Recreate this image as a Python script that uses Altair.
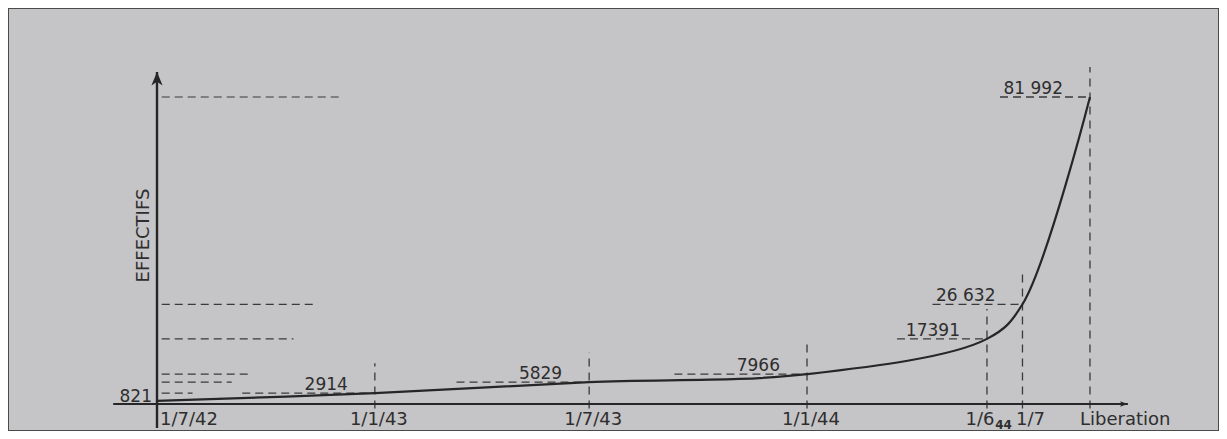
import altair as alt
import pandas as pd

# ---- values ----
dates = ["1942-07-01", "1943-01-01", "1943-07-01", "1944-01-01",
         "1944-06-01", "1944-07-01", "1944-08-27"]
tick_labels = ["1/7/42", "1/1/43", "1/7/43", "1/1/44", "1/6", "1/7", "Liberation"]
effectifs = [821, 2914, 5829, 7966, 17391, 26632, 81992]
value_labels = ["821", "2914", "5829", "7966", "17391", "26 632", "81 992"]
year_label = "44"
year_date = "1944-06-15"
y_title = "EFFECTIFS"

df = pd.DataFrame({"date": dates, "tick": tick_labels,
                   "value": effectifs, "vlabel": value_labels})
df["idx"] = list(range(len(df)))
one = pd.DataFrame({"k": [0]})

DAY = 86400000


def ms(s):
    return int((pd.Timestamp(s) - pd.Timestamp("1970-01-01")) / pd.Timedelta(milliseconds=1))


# ---- geometry / style ----
W, H = 1211, 423
ORIGIN = ms(dates[0])
PX_DAY = 650 / 549
X0_PX, Y0_PX, YTOP_PX = 149, 396, 89
x_dom = [ORIGIN - X0_PX / PX_DAY * DAY, ORIGIN + (W - X0_PX) / PX_DAY * DAY]
vmax = max(effectifs)
per_px = vmax / (Y0_PX - YTOP_PX)
y_dom = [-(H - Y0_PX) * per_px, Y0_PX * per_px]

xs = alt.Scale(domain=x_dom, nice=False)
ys = alt.Scale(domain=y_dom, nice=False, zero=False)

INK = "#262626"
DASH = "#3a3a3a"
TXT = "#2e2e2e"
FONT = "DejaVu Sans"
BG = "#c5c4c7"

AX_X = (ORIGIN - 37 * DAY, ORIGIN + 820 * DAY)
AX_Y = (-6400, 88700)

X = alt.X("date:T", scale=xs, axis=None)
Y = alt.Y("value:Q", scale=ys, axis=None)


def xd(v):
    return alt.X(datum=v, type="temporal", scale=xs, axis=None)


def yd(v):
    return alt.Y(datum=v, type="quantitative", scale=ys, axis=None)


base = alt.Chart(df)

# axes lines
x_axis = alt.Chart(one).mark_rule(color=INK, strokeWidth=2.2).encode(
    x=xd(AX_X[0]), x2=alt.X2(datum=AX_X[1]), y=yd(0))
y_axis = alt.Chart(one).mark_rule(color=INK, strokeWidth=2.4).encode(
    x=xd(ORIGIN), y=yd(AX_Y[0]), y2=alt.Y2(datum=AX_Y[1]))
up_arrow = alt.Chart(one).mark_point(
    shape="M0,0L0.75,1.8L0,1.3L-0.75,1.8Z", size=225, filled=True,
    color=INK, opacity=1).encode(x=xd(ORIGIN), y=yd(AX_Y[1]))
right_arrow = alt.Chart(one).mark_point(
    shape="M0,0L-2,-0.7L-1.5,0L-2,0.7Z", size=64, filled=True,
    color=INK, opacity=1).encode(x=xd(AX_X[1]), y=yd(0))

# vertical dashed guides at each date
vdash = base.transform_filter("datum.idx > 0").transform_calculate(
    top="datum.value + 8000", bot="-1200"
).mark_rule(color=DASH, strokeWidth=1.3, strokeDash=[8, 6]).encode(
    x=X, y=alt.Y("bot:Q", scale=ys, axis=None), y2="top:Q")

# leader dashes under the value labels
leader = base.transform_filter("datum.idx > 0").transform_calculate(
    start="toDate(datum.date) - (datum.value < 10000 ? 112 : 76) * 86400000"
).mark_rule(color=DASH, strokeWidth=1.3, strokeDash=[8, 5]).encode(
    x=alt.X("start:T", scale=xs, axis=None), x2="date:T", y=Y)

# dashed guides from the vertical axis
guide = base.transform_filter("datum.idx > 0").transform_calculate(
    g0=f"{ORIGIN + 4 * DAY}",
    g1=f"{ORIGIN} + min(183, 35 + 130 * (log(datum.value) / LN10 - 3.46)) / {PX_DAY} * 86400000"
).mark_rule(color=DASH, strokeWidth=1.2, strokeDash=[8, 5]).encode(
    x=alt.X("g0:T", scale=xs, axis=None), x2="g1:T", y=Y)

# curve
curve = base.mark_line(interpolate="catmull-rom", color=INK, strokeWidth=2.2).encode(x=X, y=Y)

# value labels
vlab_first = base.transform_filter("datum.idx == 0").mark_text(
    align="right", baseline="alphabetic", dx=-5, dy=1, fontSize=17, font=FONT, color=TXT
).encode(x=X, y=Y, text="vlabel:N")
vlab_rest = base.transform_filter("datum.idx > 0").mark_text(
    align="right", baseline="alphabetic", dx=-27, dy=-3, fontSize=17, font=FONT, color=TXT
).encode(x=X, y=Y, text="vlabel:N")


def tick_layer(expr, align, dx):
    return base.transform_filter(expr).mark_text(
        align=align, baseline="middle", dx=dx, dy=16, fontSize=18, font=FONT, color=TXT
    ).encode(x=X, y=yd(0), text="tick:N")


t_first = tick_layer("datum.idx == 0", "left", 3)
t_mid = tick_layer("datum.idx >= 1 && datum.idx <= 3", "center", 4)
t_jun = tick_layer("datum.idx == 4", "center", -7)
t_jul = tick_layer("datum.idx == 5", "center", 8)
t_lib = tick_layer("datum.idx == 6", "left", -10)

year = alt.Chart(one).mark_text(
    align="center", baseline="alphabetic", dy=25, fontSize=12, fontWeight="bold",
    font=FONT, color=TXT
).encode(x=xd(ms(year_date)), y=yd(0), text=alt.value(year_label))

title = alt.Chart(one).mark_text(
    angle=270, align="center", baseline="middle", dy=-13, fontSize=18,
    font=FONT, color=TXT
).encode(x=xd(ORIGIN), y=yd(45000), text=alt.value(y_title))

chart = alt.layer(
    guide, vdash, leader, x_axis, y_axis, up_arrow, right_arrow, curve,
    vlab_first, vlab_rest, t_first, t_mid, t_jun, t_jul, t_lib, year, title
).properties(
    width=W, height=H, background=BG, padding=0, autosize=alt.AutoSizeParams(type="none")
).configure_view(stroke="#4a4a4a", strokeWidth=2)

chart.save("out.html", embed_options={"renderer": "svg", "actions": False})
